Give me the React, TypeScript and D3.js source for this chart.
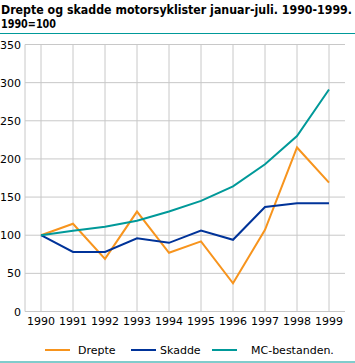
import React from "react";
import * as d3 from "d3";

const years = ["1990","1991","1992","1993","1994","1995","1996","1997","1998","1999"];
const drepte = [100,115,69,131,77,92,37,107,215,169];
const skadde = [100,78,78,96,90,106,94,137,142,142];
const mc = [100,106,111,119,131,145,164,193,230,291];
const yTicks = [0,50,100,150,200,250,300,350];
const seriesNames = ["Drepte","Skadde","MC-bestanden."];
const colors = ["#f7941d","#003399","#009999"];

export default function App() {
  const W = 355, H = 363;
  const x = d3.scaleBand().domain(years).range([25, 345]);
  const y = d3.scaleLinear().domain([0, 350]).range([311.5, 44.5]);
  const cx = (yr: string) => (x(yr) as number) + x.bandwidth() / 2;
  const line = d3.line<number>().x((_, i) => cx(years[i])).y(d => y(d));
  const data = [drepte, skadde, mc];
  const font = "DejaVu Sans, Verdana, sans-serif";
  const legendX = [[45, 70, 78], [131, 156, 160], [212, 237, 251]];
  return (
    <svg width={W} height={H} style={{ position: "absolute", left: 0, top: 0, background: "#fff" }} fontFamily={font}>
      <text x={1} y={14} fontSize={12} fontWeight="bold" fill="#000" fontFamily="DejaVu Sans Condensed, DejaVu Sans, sans-serif" textLength={351} lengthAdjust="spacingAndGlyphs">Drepte og skadde motorsyklister januar-juli. 1990-1999.</text>
      <text x={1} y={28} fontSize={12} fontWeight="bold" fill="#000" fontFamily="DejaVu Sans Condensed, DejaVu Sans, sans-serif" textLength={55} lengthAdjust="spacingAndGlyphs">1990=100</text>
      <line x1={0} x2={355} y1={33.5} y2={33.5} stroke="#009999" strokeWidth={1} />
      {yTicks.map(t => (
        <g key={t}>
          <line x1={25} x2={345} y1={y(t)} y2={y(t)} stroke="#c8c8c8" strokeWidth={1} />
          <text x={21} y={y(t) + 4} textAnchor="end" fontSize={11} fill="#000">{t}</text>
        </g>
      ))}
      {years.map(yr => (
        <g key={yr}>
          <line x1={cx(yr)} x2={cx(yr)} y1={44.5} y2={311.5} stroke="#c8c8c8" strokeWidth={1} />
          <text x={cx(yr)} y={325} textAnchor="middle" fontSize={11} fill="#000">{yr}</text>
        </g>
      ))}
      <line x1={25} x2={25} y1={44.5} y2={311.5} stroke="#c8c8c8" strokeWidth={1} />
      {data.map((d, i) => (
        <path key={i} d={line(d) as string} fill="none" stroke={colors[i]} strokeWidth={2} />
      ))}
      {seriesNames.map((n, i) => (
        <g key={n}>
          <line x1={legendX[i][0]} x2={legendX[i][1]} y1={350} y2={350} stroke={colors[i]} strokeWidth={2} />
          <text x={legendX[i][2]} y={354} fontSize={11} fill="#000">{n}</text>
        </g>
      ))}
      <line x1={0} x2={355} y1={362} y2={362} stroke="#009999" strokeWidth={1} />
    </svg>
  );
}
